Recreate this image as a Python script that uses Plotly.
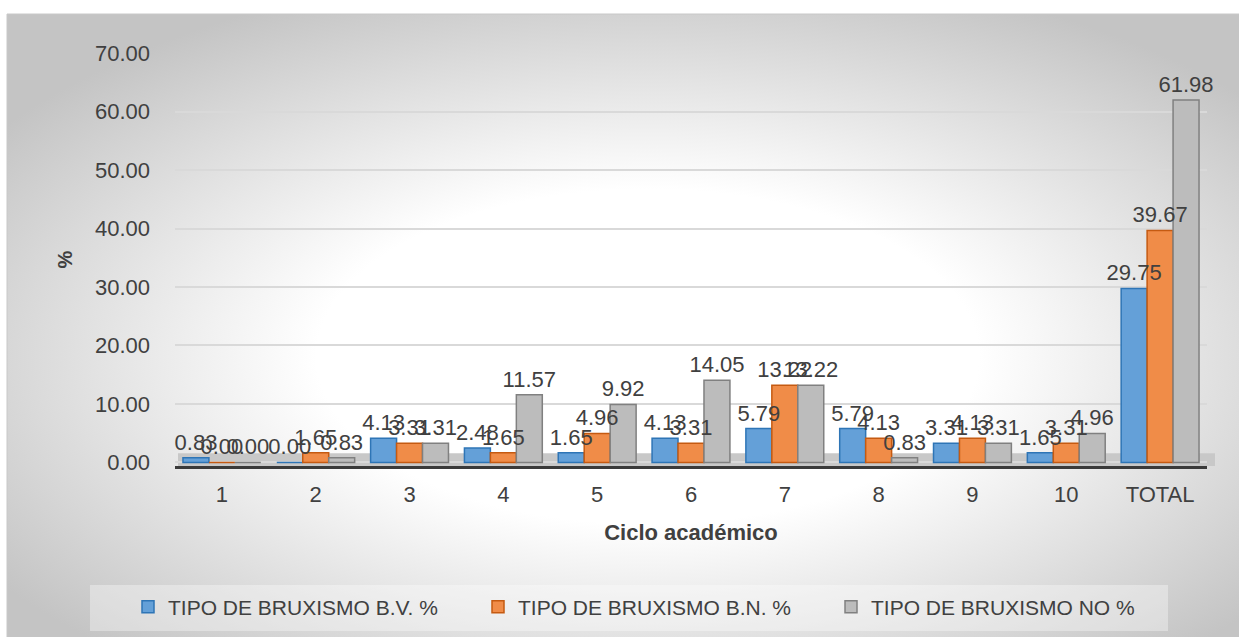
import base64
import plotly.graph_objects as go

# ---------------- data ----------------
categories = ["1", "2", "3", "4", "5", "6", "7", "8", "9", "10", "TOTAL"]
bv_values = [0.83, 0.00, 4.13, 2.48, 1.65, 4.13, 5.79, 5.79, 3.31, 1.65, 29.75]
bn_values = [0.00, 1.65, 3.31, 1.65, 4.96, 3.31, 13.22, 4.13, 4.13, 3.31, 39.67]
no_values = [0.00, 0.83, 3.31, 11.57, 9.92, 14.05, 13.22, 0.83, 3.31, 4.96, 61.98]
series_names = ["TIPO DE BRUXISMO B.V. %", "TIPO DE BRUXISMO B.N. %", "TIPO DE BRUXISMO NO %"]
y_ticks = [0, 10, 20, 30, 40, 50, 60, 70]
x_title = "Ciclo académico"
y_title = "%"

# ---------------- layout helpers ----------------
W, H = 1239, 637
L, R, T, B = 175, 1207, 53, 466  # plot area edges in pixels


def px(X):
    return (X - L) / (R - L)


def py(Y):
    return (B - Y) / (B - T)


FONT = "Liberation Sans, Arial, sans-serif"
TXT = "#404040"

fills = ["#64a0d8", "#f08c48", "#bcbcbc"]
lines = ["#2e75b6", "#c55a11", "#808080"]
groups = ["a", "b", "c"]
legend_ids = ["legend", "legend2", "legend3"]
legend_x = [128, 478, 831]
all_values = [bv_values, bn_values, no_values]

fig = go.Figure()
# coloured bars (no text)
for name, vals, fc, lc, g, lg in zip(series_names, all_values, fills, lines, groups, legend_ids):
    fig.add_trace(go.Bar(
        x=categories, y=vals, name=name, offsetgroup=g, legend=lg,
        marker=dict(color=fc, line=dict(color=lc, width=1.5)),
        hoverinfo="skip",
    ))
# value labels drawn on top of all bars
for name, vals, g in zip(series_names, all_values, groups):
    fig.add_trace(go.Bar(
        x=categories, y=vals, name=name, offsetgroup=g, showlegend=False,
        marker=dict(color="rgba(0,0,0,0)", line=dict(width=0)),
        texttemplate="%{y:.2f}", textposition="outside",
        textfont=dict(family=FONT, size=22, color=TXT),
        constraintext="none", cliponaxis=False,
    ))

# background radial gradient (chart area) as an SVG image
cw, ch = W - 7, H - 14
svg = (
    f'<svg xmlns="http://www.w3.org/2000/svg" width="{cw}" height="{ch}" '
    f'viewBox="0 0 {cw} {ch}" preserveAspectRatio="none"><defs>'
    '<radialGradient id="g" cx="0.52" cy="0.55" r="0.64" fx="0.52" fy="0.55">'
    '<stop offset="0" stop-color="#ffffff"/><stop offset="0.42" stop-color="#ffffff"/>'
    '<stop offset="1" stop-color="#c4c4c4"/></radialGradient></defs>'
    f'<rect width="{cw}" height="{ch}" fill="url(#g)"/></svg>'
)
src = "data:image/svg+xml;base64," + base64.b64encode(svg.encode()).decode()

legend_common = dict(orientation="h", xref="container", yref="container",
                     xanchor="left", y=1 - 607 / H, yanchor="middle",
                     bgcolor="rgba(0,0,0,0)", font=dict(family=FONT, size=21, color=TXT))

fig.update_layout(
    width=W, height=H,
    margin=dict(l=L, r=W - R, t=T, b=H - B, autoexpand=False),
    paper_bgcolor="white", plot_bgcolor="rgba(0,0,0,0)",
    font=dict(family=FONT, color=TXT),
    barmode="group", bargap=0.17, bargroupgap=0.0,
    images=[dict(source=src, xref="paper", yref="paper", x=px(7), y=py(14),
                 sizex=cw / (R - L), sizey=ch / (B - T), sizing="stretch",
                 xanchor="left", yanchor="top", layer="below")],
    shapes=[
        # chart border
        dict(type="rect", xref="paper", yref="paper", x0=px(7), x1=px(W + 2), y0=py(14), y1=py(H + 2),
             line=dict(color="#c8c8c8", width=1), fillcolor="rgba(0,0,0,0)", layer="below"),
        # legend background
        dict(type="rect", xref="paper", yref="paper", x0=px(90), x1=px(1168), y0=py(585), y1=py(631),
             line=dict(width=0), fillcolor="rgba(255,255,255,0.35)", layer="below"),
        # floor band
        dict(type="rect", xref="paper", yref="y", x0=px(178), x1=px(1215), y0=-0.6, y1=1.6,
             line=dict(width=0), fillcolor="#c8c8c8", layer="below"),
    ],
    legend=dict(x=legend_x[0] / W, **legend_common),
    legend2=dict(x=legend_x[1] / W, **legend_common),
    legend3=dict(x=legend_x[2] / W, **legend_common),
    xaxis=dict(type="category", showline=True, linecolor="#3a3a3a", linewidth=3,
               ticks="", showgrid=False, tickfont=dict(size=22, color=TXT),
               ticklabelstandoff=7,
               title=dict(text=f"<b>{x_title}</b>", font=dict(size=22, color=TXT), standoff=19)),
    yaxis=dict(range=[-0.6, 70], tickvals=y_ticks, tickformat=".2f",
               showgrid=True, gridcolor="#d9d9d9", gridwidth=1.5, zeroline=False,
               showline=False, ticks="", tickfont=dict(size=22, color=TXT),
               ticklabelstandoff=24,
               title=dict(text=f"<b>{y_title}</b>", font=dict(size=20, color=TXT), standoff=16)),
)

fig.write_html("out.html", config={"displayModeBar": False},
               post_script="document.body.style.margin='0px';document.body.style.overflow='hidden';")
